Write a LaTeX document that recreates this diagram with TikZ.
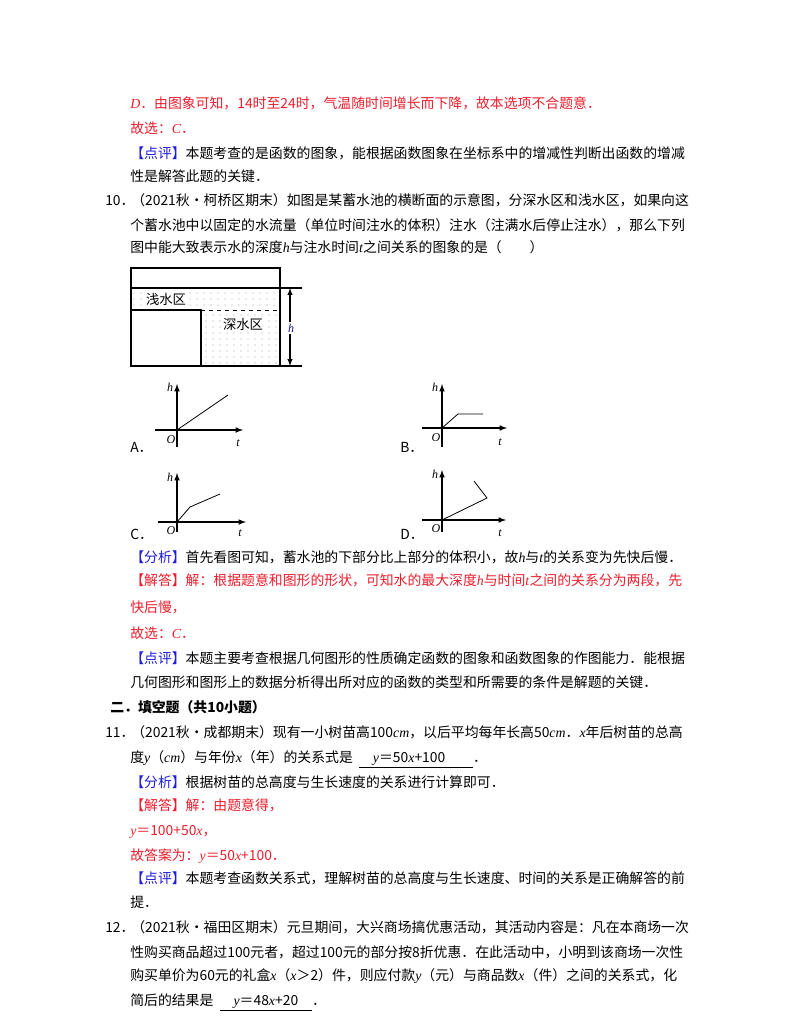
\documentclass[tikz,border=0pt]{standalone}
\usepackage{fontspec}
\setmainfont{Noto Sans CJK SC}[ItalicFont={Liberation Serif Italic}]
\newfontfamily\lat{Liberation Serif}
\definecolor{rd}{RGB}{235,30,45}
\definecolor{bl}{RGB}{30,30,220}
\newcommand{\hl}[1]{\textcolor{bl}{【#1】}}
\newcommand{\rl}[1]{\textcolor{rd}{【#1】}}
\begin{document}
\begin{tikzpicture}[x=0.75pt,y=-0.75pt,
  tl/.style={anchor=base west,inner sep=0pt,font=\fontsize{10.4}{12}\selectfont},
  ax/.style={line width=0.9pt,-latex},
  cv/.style={line width=0.6pt},
  gl/.style={font=\fontsize{9}{10}\selectfont\itshape,inner sep=0pt}]
\useasboundingbox[fill=white] (0,0) rectangle (800,1035);
% text lines
\node[tl,text=rd] (l1) at (130,108) {\textit{D}．由图象可知，14时至24时，气温随时间增长而下降，故本选项不合题意．};
\node[tl,text=rd] (l2) at (130,133) {故选：\textit{C}．};
\node[tl] (l3) at (130,158) {\hl{点评}本题考查的是函数的图象，能根据函数图象在坐标系中的增减性判断出函数的增减};
\node[tl] (l4) at (130,181) {性是解答此题的关键．};
\node[tl] (n10) at (105,205) {10．};
\node[tl] (l5) at (131,205) {（2021秋•柯桥区期末）如图是某蓄水池的横断面的示意图，分深水区和浅水区，如果向这};
\node[tl] (l6) at (130,230) {个蓄水池中以固定的水流量（单位时间注水的体积）注水（注满水后停止注水），那么下列};
\node[tl] (l7) at (130,252) {图中能大致表示水的深度\textit{h}与注水时间\textit{t}之间关系的图象的是（\qquad ）};
% tank
\draw[line width=0.8pt] (131,268) rectangle (280,366);
\draw[line width=0.8pt] (131,288) -- (302,288);
\draw[line width=0.8pt] (280,366) -- (302,366);
\draw[line width=0.8pt] (131,310) -- (201,310) -- (201,366);
\draw[dashed,line width=0.6pt] (201,310) -- (280,310);
\foreach \x in {134,141,...,278}{\foreach \y in {293,299,305}{\fill (\x,\y) circle (0.45);}}
\foreach \x in {206,213,...,278}{\foreach \y in {315,321,...,363}{\fill (\x,\y) circle (0.45);}}
\node[font=\fontsize{10}{11}\selectfont,inner sep=1pt,fill=white] (sz) at (166,299) {浅水区};
\node[font=\fontsize{10}{11}\selectfont,inner sep=1pt,fill=white] (dz) at (243,324) {深水区};
\coordinate (ht) at (290,288); \coordinate (hb) at (290,366);
\draw[line width=0.8pt,-latex] (290,322) -- (ht);
\draw[line width=0.8pt,-latex] (290,334) -- (hb);
\node[gl,text=bl!60!black] (hl) at (291,328) {h};
% graph A
\node[tl] (la) at (130,452) {A．};
\draw[ax] (177,447) -- (177,384);
\draw[ax] (155,430) -- (243,430);
\draw[cv] (177,430) -- (228,395);
\node[gl] at (170,387) {h}; \node[gl] at (171,440) {O}; \node[gl] at (238,443) {t};
% graph B
\node[tl] (lb) at (400,452) {B．};
\draw[ax] (442,447) -- (442,384);
\draw[ax] (422,428) -- (507,428);
\draw[cv] (442,428) -- (458,414) -- (483,414);
\node[gl] at (435,387) {h}; \node[gl] at (436,438) {O}; \node[gl] at (500,442) {t};
% graph C
\node[tl] (lc) at (130,539) {C．};
\draw[ax] (177,532) -- (177,473);
\draw[ax] (158,522) -- (246,522);
\draw[cv] (177,522) -- (190,507) -- (220,494);
\node[gl] at (170,477) {h}; \node[gl] at (171,531) {O}; \node[gl] at (240,533) {t};
% graph D
\node[tl] (ld) at (400,539) {D．};
\draw[ax] (442,532) -- (442,470);
\draw[ax] (422,520) -- (506,520);
\draw[cv] (442,520) -- (487,498) -- (474,481);
\node[gl] at (435,474) {h}; \node[gl] at (436,529) {O}; \node[gl] at (500,533) {t};
% analysis
\node[tl] (m1) at (130,562) {\hl{分析}首先看图可知，蓄水池的下部分比上部分的体积小，故\textit{h}与\textit{t}的关系变为先快后慢．};
\node[tl,text=rd] (m2) at (130,585) {\rl{解答}解：根据题意和图形的形状，可知水的最大深度\textit{h}与时间\textit{t}之间的关系分为两段，先};
\node[tl,text=rd] (m3) at (130,612) {快后慢，};
\node[tl,text=rd] (m4) at (130,638) {故选：\textit{C}．};
\node[tl] (m5) at (130,663) {\hl{点评}本题主要考查根据几何图形的性质确定函数的图象和函数图象的作图能力．能根据};
\node[tl] (m6) at (130,687) {几何图形和图形上的数据分析得出所对应的函数的类型和所需要的条件是解题的关键．};
% section 2
\node[tl,font=\fontsize{10.4}{12}\selectfont\bfseries] (s2) at (110,712) {二．填空题（共10小题）};
\node[tl] (n11) at (105,737) {11．};
\node[tl] (p1) at (131,737) {（2021秋•成都期末）现有一小树苗高100\textit{cm}，以后平均每年长高50\textit{cm}．\textit{x}年后树苗的总高};
\node[tl] (p2) at (130,762) {度\textit{y}（\textit{cm}）与年份\textit{x}（年）的关系式是\ \ \underline{\quad\textit{y}＝50\textit{x}+100\qquad}．};
\node[tl] (p3) at (130,787) {\hl{分析}根据树苗的总高度与生长速度的关系进行计算即可．};
\node[tl,text=rd] (p4) at (130,810) {\rl{解答}解：由题意得，};
\node[tl,text=rd] (p5) at (130,835) {\textit{y}＝100+50\textit{x}，};
\node[tl,text=rd] (p6) at (130,860) {故答案为：\textit{y}＝50\textit{x}+100．};
\node[tl] (p7) at (130,883) {\hl{点评}本题考查函数关系式，理解树苗的总高度与生长速度、时间的关系是正确解答的前};
\node[tl] (p8) at (130,907) {提．};
\node[tl] (n12) at (105,932) {12．};
\node[tl] (q1) at (131,932) {（2021秋•福田区期末）元旦期间，大兴商场搞优惠活动，其活动内容是：凡在本商场一次};
\node[tl] (q2) at (130,957) {性购买商品超过100元者，超过100元的部分按8折优惠．在此活动中，小明到该商场一次性};
\node[tl] (q3) at (130,980) {购买单价为60元的礼盒\textit{x}（\textit{x}＞2）件，则应付款\textit{y}（元）与商品数\textit{x}（件）之间的关系式，化};
\node[tl] (q4) at (130,1005) {简后的结果是\ \ \underline{\quad\textit{y}＝48\textit{x}+20\quad}．};
\end{tikzpicture}
\end{document}
